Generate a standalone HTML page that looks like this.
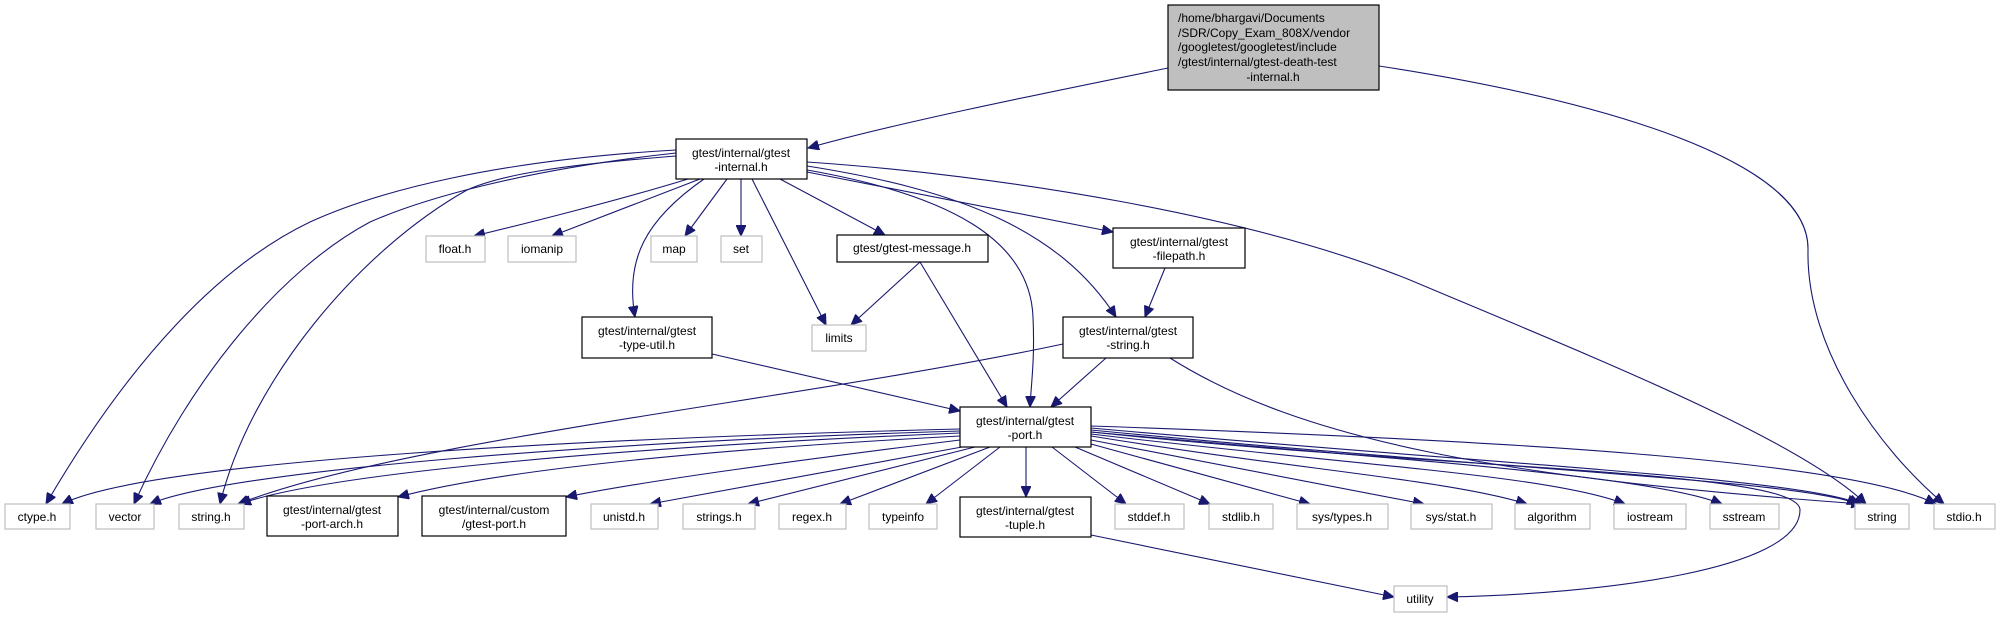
<!DOCTYPE html>
<html><head><meta charset="utf-8"><style>
html,body{margin:0;padding:0;background:#fff;}
svg{display:block;}
text{font-family:"Liberation Sans",sans-serif;font-size:12px;fill:#000;}
.b{fill:#fff;stroke:#000;stroke-width:1.2;}
.g{fill:#fff;stroke:#bfbfbf;stroke-width:1.2;}
.e{fill:none;stroke:#191970;stroke-width:1.1;marker-end:url(#a);}
</style></head><body>
<svg width="2001" height="617" viewBox="0 0 2001 617" xmlns="http://www.w3.org/2000/svg">
<defs><marker id="a" markerUnits="userSpaceOnUse" markerWidth="12" markerHeight="10" refX="11" refY="5" orient="auto"><path d="M0,0 L11,5 L0,10 z" fill="#191970" stroke="#191970"/></marker></defs>

<!-- edges -->
<path class="e" d="M1168,68 C1050,92 900,122 808,148"/>
<path class="e" d="M1379,66 C1600,100 1810,160 1808,250 C1806,350 1880,450 1944,504"/>
<path class="e" d="M676,150 C500,160 380,190 310,222 C220,265 130,360 46,504"/>
<path class="e" d="M676,153 C520,170 420,200 370,222 C280,270 190,380 134,504"/>
<path class="e" d="M676,156 C560,165 500,175 467,190 C360,250 250,380 220,504"/>
<path class="e" d="M688,179 C620,200 520,225 474,236"/>
<path class="e" d="M700,179 L552,236"/>
<path class="e" d="M704,179 C645,220 625,260 635,317"/>
<path class="e" d="M727,179 L685,236"/>
<path class="e" d="M741,179 L741,236"/>
<path class="e" d="M752,179 L826,325"/>
<path class="e" d="M780,179 L885,235"/>
<path class="e" d="M807,170 C950,195 1030,240 1033,317 C1035,360 1031,385 1030,407"/>
<path class="e" d="M807,172 L1113,232"/>
<path class="e" d="M807,166 C960,190 1060,230 1116,317"/>
<path class="e" d="M807,162 C1000,175 1250,215 1410,280 C1600,360 1800,440 1866,504"/>
<path class="e" d="M920,262 L851,325"/>
<path class="e" d="M920,262 L1007,407"/>
<path class="e" d="M1165,268 L1145,317"/>
<path class="e" d="M712,354 L960,411"/>
<path class="e" d="M1106,358 L1051,407"/>
<path class="e" d="M1063,344 C800,400 400,440 238,504"/>
<path class="e" d="M1170,358 C1300,440 1500,478 1862,504"/>
<!-- port outgoing -->
<path class="e" d="M960,429 C600,438 150,460 62,504"/>
<path class="e" d="M960,431 C600,442 230,470 150,504"/>
<path class="e" d="M960,433 C600,448 320,475 240,504"/>
<path class="e" d="M960,436 C700,450 500,470 398,497"/>
<path class="e" d="M960,440 C800,460 650,480 566,497"/>
<path class="e" d="M962,447 L650,504"/>
<path class="e" d="M975,447 L748,504"/>
<path class="e" d="M990,447 L840,504"/>
<path class="e" d="M1000,447 L926,504"/>
<path class="e" d="M1026,447 L1026,497"/>
<path class="e" d="M1052,447 L1126,504"/>
<path class="e" d="M1075,447 L1210,504"/>
<path class="e" d="M1091,444 L1310,504"/>
<path class="e" d="M1091,440 L1424,504"/>
<path class="e" d="M1091,436 C1300,470 1450,480 1527,504"/>
<path class="e" d="M1091,434 C1350,465 1550,475 1625,504"/>
<path class="e" d="M1091,432 C1400,460 1650,475 1722,504"/>
<path class="e" d="M1091,430 C1500,470 1800,480 1858,504"/>
<path class="e" d="M1091,428 C1500,465 1800,478 1860,504"/>
<path class="e" d="M1091,426 C1500,440 1850,460 1936,504"/>
<path class="e" d="M1091,432 C1450,470 1800,470 1800,510 C1800,570 1600,594 1447,597"/>
<path class="e" d="M1091,535 L1394,597"/>

<!-- nodes -->
<rect x="1168" y="5" width="211" height="85" fill="#bfbfbf" stroke="#000" stroke-width="1.2"/>
<text x="1178" y="22">/home/bhargavi/Documents</text>
<text x="1178" y="37">/SDR/Copy_Exam_808X/vendor</text>
<text x="1178" y="51">/googletest/googletest/include</text>
<text x="1178" y="66">/gtest/internal/gtest-death-test</text>
<text x="1273" y="81" text-anchor="middle">-internal.h</text>

<g text-anchor="middle">
<rect class="b" x="676" y="139" width="131" height="40"/><text x="741" y="157">gtest/internal/gtest</text><text x="741" y="171">-internal.h</text>
<rect class="g" x="426" y="236" width="59" height="26"/><text x="455" y="253">float.h</text>
<rect class="g" x="508" y="236" width="68" height="26"/><text x="542" y="253">iomanip</text>
<rect class="g" x="651" y="236" width="46" height="26"/><text x="674" y="253">map</text>
<rect class="g" x="721" y="236" width="41" height="26"/><text x="741" y="253">set</text>
<rect class="b" x="837" y="235" width="151" height="27"/><text x="912" y="252">gtest/gtest-message.h</text>
<rect class="b" x="1113" y="228" width="132" height="40"/><text x="1179" y="246">gtest/internal/gtest</text><text x="1179" y="260">-filepath.h</text>
<rect class="b" x="582" y="317" width="130" height="41"/><text x="647" y="335">gtest/internal/gtest</text><text x="647" y="349">-type-util.h</text>
<rect class="g" x="812" y="325" width="54" height="26"/><text x="839" y="342">limits</text>
<rect class="b" x="1063" y="317" width="130" height="41"/><text x="1128" y="335">gtest/internal/gtest</text><text x="1128" y="349">-string.h</text>
<rect class="b" x="960" y="407" width="131" height="40"/><text x="1025" y="425">gtest/internal/gtest</text><text x="1025" y="439">-port.h</text>

<rect class="g" x="5" y="504" width="65" height="25"/><text x="37" y="521">ctype.h</text>
<rect class="g" x="96" y="504" width="58" height="25"/><text x="125" y="521">vector</text>
<rect class="g" x="179" y="504" width="65" height="25"/><text x="211" y="521">string.h</text>
<rect class="b" x="267" y="496" width="131" height="40"/><text x="332" y="514">gtest/internal/gtest</text><text x="332" y="528">-port-arch.h</text>
<rect class="b" x="422" y="496" width="144" height="40"/><text x="494" y="514">gtest/internal/custom</text><text x="494" y="528">/gtest-port.h</text>
<rect class="g" x="591" y="504" width="67" height="25"/><text x="624" y="521">unistd.h</text>
<rect class="g" x="683" y="504" width="72" height="25"/><text x="719" y="521">strings.h</text>
<rect class="g" x="779" y="504" width="67" height="25"/><text x="812" y="521">regex.h</text>
<rect class="g" x="869" y="504" width="68" height="25"/><text x="903" y="521">typeinfo</text>
<rect class="b" x="960" y="497" width="131" height="40"/><text x="1025" y="515">gtest/internal/gtest</text><text x="1025" y="529">-tuple.h</text>
<rect class="g" x="1115" y="504" width="69" height="25"/><text x="1149" y="521">stddef.h</text>
<rect class="g" x="1209" y="504" width="64" height="25"/><text x="1241" y="521">stdlib.h</text>
<rect class="g" x="1297" y="504" width="91" height="25"/><text x="1342" y="521">sys/types.h</text>
<rect class="g" x="1411" y="504" width="81" height="25"/><text x="1451" y="521">sys/stat.h</text>
<rect class="g" x="1515" y="504" width="75" height="25"/><text x="1552" y="521">algorithm</text>
<rect class="g" x="1614" y="504" width="72" height="25"/><text x="1650" y="521">iostream</text>
<rect class="g" x="1710" y="504" width="69" height="25"/><text x="1744" y="521">sstream</text>
<rect class="g" x="1855" y="504" width="54" height="25"/><text x="1882" y="521">string</text>
<rect class="g" x="1934" y="504" width="61" height="25"/><text x="1964" y="521">stdio.h</text>
<rect class="g" x="1394" y="586" width="53" height="26"/><text x="1420" y="603">utility</text>
</g>
</svg>
</body></html>
